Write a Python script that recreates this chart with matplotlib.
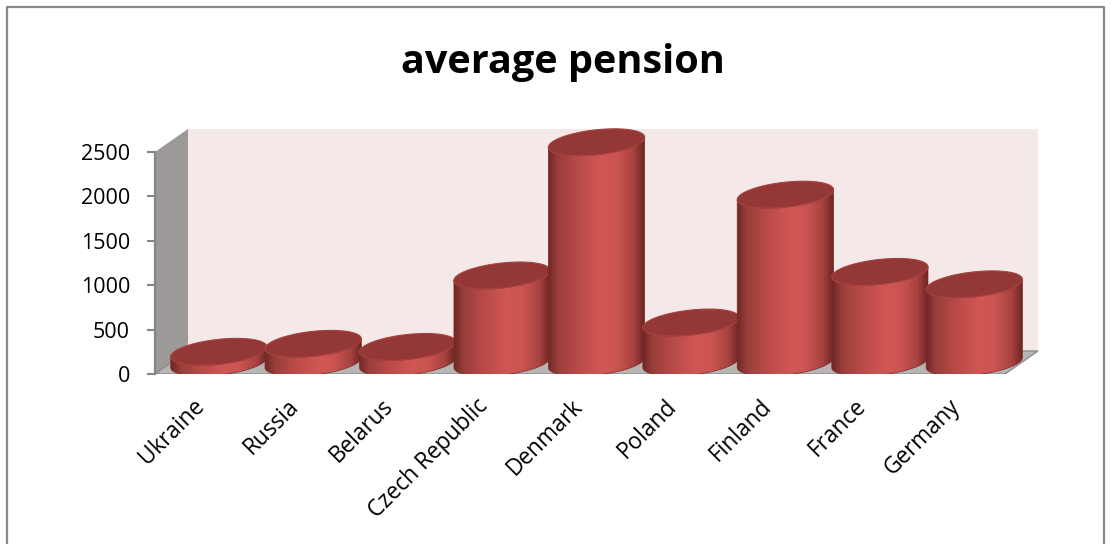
import numpy as np
import matplotlib.pyplot as plt
from matplotlib.colors import LinearSegmentedColormap
from matplotlib.patches import Polygon

# --------------------------------------------------------------------------- #
# data
# --------------------------------------------------------------------------- #
countries = ["Ukraine", "Russia", "Belarus", "Czech Republic", "Denmark",
             "Poland", "Finland", "France", "Germany"]
pension = [120, 210, 175, 980, 2480, 450, 1890, 1020, 880]
y_ticks = [0, 500, 1000, 1500, 2000, 2500]
title = "average pension"

# --------------------------------------------------------------------------- #
# layout (pixels of the 1111x544 canvas)
# --------------------------------------------------------------------------- #
W, H = 1111, 544
X0, X1 = 155, 1005      # front floor edge
Y0, Y25 = 374, 152      # value 0 and value 2500 on the front plane
DEPTH_X, DEPTH_Y = 33, 23
FONT = ["Open Sans", "DejaVu Sans"]

plt.rcParams["font.family"] = FONT

fig = plt.figure(figsize=(W / 100, H / 100), dpi=100)
fig.patch.set_facecolor("white")

top_px = 95
right_px = 1050
ax = fig.add_axes([X0 / W, (H - Y0) / H, (right_px - X0) / W, (Y0 - top_px) / H])
ux = len(countries) / (X1 - X0)          # category units per pixel
uy = y_ticks[-1] / (Y0 - Y25)            # value units per pixel
DX, DY = DEPTH_X * ux, DEPTH_Y * uy
n = len(countries)
ymax = y_ticks[-1]

# walls and floor
back = Polygon([(DX, DY), (n + DX, DY), (n + DX, ymax + DY), (DX, ymax + DY)],
               closed=True, fc="#f4e8e8", ec="none", zorder=0.5)
left = Polygon([(0, 0), (0, ymax), (DX, ymax + DY), (DX, DY)],
               closed=True, fc="#9e9999", ec="none", zorder=0.6)
floor = Polygon([(0, 0), (n, 0), (n + DX, DY), (DX, DY)],
                closed=True, fc="#b8b5b5", ec="#8e8c8c", lw=1.0, zorder=0.7)
for p in (back, left, floor):
    ax.add_patch(p)

# cylinders
A = 0.51                 # radius in category units
B = 12.5 * uy            # ellipse half height
M = 5 * uy               # tilt of the ellipse
body_cmap = LinearSegmentedColormap.from_list(
    "body",
    [(0.0, "#6f2725"), (0.1, "#993e3b"), (0.3, "#b84a47"), (0.55, "#d05753"),
     (0.7, "#cc5551"), (0.88, "#a94341"), (1.0, "#6a2422")])
grad = np.linspace(0, 1, 256).reshape(1, -1)


def ellipse(cx, cy, t):
    return cx + A * np.cos(t), cy + B * np.sin(t) + M * np.cos(t)


for i, v in enumerate(pension):
    cx = i + 0.5 + DX / 2
    yb = DY / 2
    yt = yb + v
    z = 2 + i * 0.1
    tl = np.linspace(np.pi, 2 * np.pi, 120)
    bx, by = ellipse(cx, yb, tl)
    tx, ty = ellipse(cx, yt, tl[::-1])
    body = Polygon(np.column_stack([np.r_[bx, tx], np.r_[by, ty]]),
                   closed=True, fc="none", ec="#7a2b29", lw=0.5, zorder=z + 0.02)
    ax.add_patch(body)
    im = ax.imshow(grad, cmap=body_cmap, aspect="auto", interpolation="bilinear",
                   extent=[cx - A, cx + A, yb - B - M, yt + B + M], zorder=z)
    im.set_clip_path(body)
    ta = np.linspace(0, 2 * np.pi, 200)
    ex, ey = ellipse(cx, yt, ta)
    ax.add_patch(Polygon(np.column_stack([ex, ey]), closed=True, fc="#933836",
                         ec="#a8423f", lw=0.8, zorder=z + 0.05))

# category labels
for i, name in enumerate(countries):
    ax.text(i + 0.5 - 1 * ux, -(403 - Y0) * uy, name, rotation=45,
            rotation_mode="anchor", ha="right", va="center", fontsize=16.3,
            color="black", clip_on=False)

ax.set_xlim(0, (right_px - X0) * ux)
ax.set_ylim(0, (Y0 - top_px) * uy)
ax.patch.set_visible(False)
for s in ("top", "right", "bottom"):
    ax.spines[s].set_visible(False)
ax.spines["left"].set_bounds(0, ymax)
ax.spines["left"].set_color("#868686")
ax.spines["left"].set_linewidth(1.6)
ax.spines["left"].set_zorder(1)
ax.set_xticks([])
ax.set_yticks(y_ticks)
ax.set_yticklabels([str(t) for t in y_ticks], fontsize=15.5)
ax.tick_params(axis="y", direction="out", length=6, width=1.5, color="#868686",
               pad=12)

fig.text(563 / W, 1 - 63 / H, title, ha="center", va="center",
         fontsize=28.5, fontweight="bold", color="black")

# chart border
fig.add_artist(plt.Line2D([7 / W, 7 / W, 1104 / W, 1104 / W],
                          [0, 1 - 7 / H, 1 - 7 / H, 0], color="#888888", lw=1.6))

fig.savefig("out.png", dpi=100, facecolor="white")
